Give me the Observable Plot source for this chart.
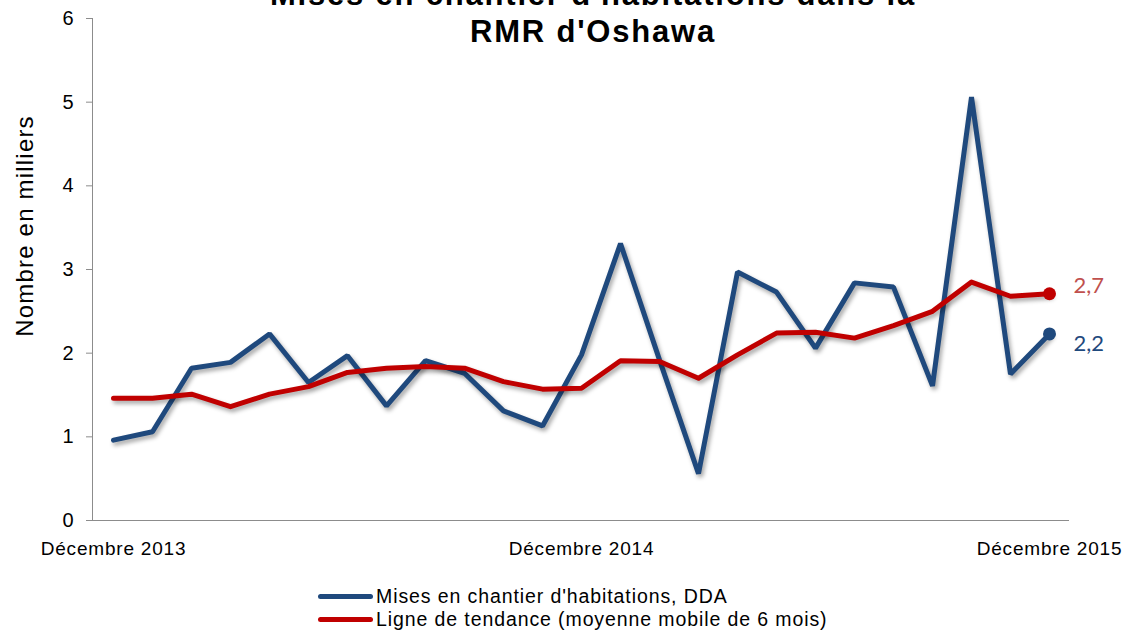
<!DOCTYPE html>
<html>
<head>
<meta charset="utf-8">
<script src="https://cdn.jsdelivr.net/npm/d3@7"></script>
<script src="https://cdn.jsdelivr.net/npm/@observablehq/plot@0.6"></script>
<style>
  html, body { margin: 0; padding: 0; background: #fff; }
  #wrap { position: relative; width: 1130px; height: 631px; overflow: hidden; font-family: "Liberation Sans", Arial, sans-serif; }
  #title { position: absolute; left: 0; width: 1130px; top: -24px; text-align: center; font-weight: bold; font-size: 31px; line-height: 37px; letter-spacing: 1.8px; color: #000; z-index: 2; padding-left: 56px; box-sizing: border-box; }
  #chart { position: absolute; left: 0; top: 0; }
  #ylabel { position: absolute; left: 25px; top: 226px; transform: translate(-50%, -50%) rotate(-90deg); white-space: nowrap; font-size: 24px; letter-spacing: 1.2px; color: #000; }
  #legend { position: absolute; left: 318px; top: 585px; font-size: 19.5px; letter-spacing: 0.9px; color: #000; }
  #legend .row { height: 23px; line-height: 23px; white-space: nowrap; }
  #legend .sw { display: inline-block; width: 55px; height: 5px; border-radius: 3px; vertical-align: middle; margin-right: 3px; position: relative; top: -1px; }
  g[aria-label="line"] { filter: drop-shadow(2px 3px 2px rgba(0,0,0,0.35)); }
</style>
</head>
<body>
<div id="wrap">
  <div id="chart"></div>
  <div id="title">Mises en chantier d'habitations dans la<br>RMR d'Oshawa</div>
  <div id="ylabel">Nombre en milliers</div>
  <div id="legend"></div>
</div>
<script>
const months = [
  "Décembre 2013", "Janvier 2014", "Février 2014", "Mars 2014", "Avril 2014", "Mai 2014",
  "Juin 2014", "Juillet 2014", "Août 2014", "Septembre 2014", "Octobre 2014", "Novembre 2014",
  "Décembre 2014", "Janvier 2015", "Février 2015", "Mars 2015", "Avril 2015", "Mai 2015",
  "Juin 2015", "Juillet 2015", "Août 2015", "Septembre 2015", "Octobre 2015", "Novembre 2015",
  "Décembre 2015"
];
const starts = [0.96, 1.06, 1.82, 1.89, 2.23, 1.65, 1.97, 1.37, 1.91, 1.76, 1.31, 1.13,
  1.98, 3.31, 1.92, 0.56, 2.97, 2.73, 2.06, 2.84, 2.79, 1.61, 5.06, 1.75, 2.23];
const trend = [1.46, 1.46, 1.51, 1.36, 1.51, 1.60, 1.77, 1.82, 1.84, 1.82, 1.66, 1.57,
  1.58, 1.91, 1.90, 1.70, 1.98, 2.24, 2.25, 2.18, 2.33, 2.50, 2.85, 2.68, 2.71];
const xTicks = ["Décembre 2013", "Décembre 2014", "Décembre 2015"];
const yTicks = [0, 1, 2, 3, 4, 5, 6];
const seriesNames = ["Mises en chantier d'habitations, DDA", "Ligne de tendance (moyenne mobile de 6 mois)"];
const seriesColors = ["#1F497D", "#C00000"];
const labelColors = ["#1F497D", "#C0504D"];

const rows = months.map((m, i) => ({month: m, starts: starts[i], trend: trend[i]}));
const last = [rows[rows.length - 1]];
const fmt = v => v.toFixed(1).replace(".", ",");

const chart = Plot.plot({
  width: 1130,
  height: 570,
  marginTop: 18,
  marginBottom: 50,
  marginLeft: 92,
  marginRight: 61,
  style: {fontFamily: "'Liberation Sans', Arial, sans-serif", background: "transparent", overflow: "visible", color: "#000"},
  x: {type: "point", domain: months, padding: 0.5},
  y: {domain: [0, 6]},
  marks: [
    Plot.frame({anchor: "left", stroke: "#8c8c8c"}),
    Plot.ruleY([0], {stroke: "#8c8c8c"}),
    Plot.axisY({ticks: yTicks, tickFormat: d => String(d), tickSize: 6, tickPadding: 13, fontSize: 20, label: null, stroke: "#8c8c8c", fill: "#000"}),
    Plot.axisX({ticks: xTicks, tickSize: 0, tickPadding: 21, fontSize: 19, label: null, fill: "#000"}),
    Plot.line(rows, {x: "month", y: "starts", stroke: seriesColors[0], strokeWidth: 5, strokeLinejoin: "miter"}),
    Plot.line(rows, {x: "month", y: "trend", stroke: seriesColors[1], strokeWidth: 5}),
    Plot.dot(last, {x: "month", y: "starts", r: 6.5, fill: seriesColors[0]}),
    Plot.dot(last, {x: "month", y: "trend", r: 6.5, fill: seriesColors[1]}),
    Plot.text(last, {x: "month", y: "trend", text: d => fmt(d.trend), dx: 24, dy: -8, textAnchor: "start", fill: labelColors[1], fontSize: 22, fontFamily: "Lato, 'Open Sans', sans-serif"}),
    Plot.text(last, {x: "month", y: "starts", text: d => fmt(d.starts), dx: 24, dy: 10, textAnchor: "start", fill: labelColors[0], fontSize: 22, fontFamily: "Lato, 'Open Sans', sans-serif"})
  ]
});
chart.querySelectorAll('g[aria-label="x-axis tick label"] text').forEach(t => { t.style.letterSpacing = "0.8px"; });
document.getElementById("chart").appendChild(chart);

const legend = document.getElementById("legend");
seriesNames.forEach((name, i) => {
  const row = document.createElement("div");
  row.className = "row";
  const sw = document.createElement("span");
  sw.className = "sw";
  sw.style.background = seriesColors[i];
  row.appendChild(sw);
  row.appendChild(document.createTextNode(name));
  legend.appendChild(row);
});
</script>
</body>
</html>
